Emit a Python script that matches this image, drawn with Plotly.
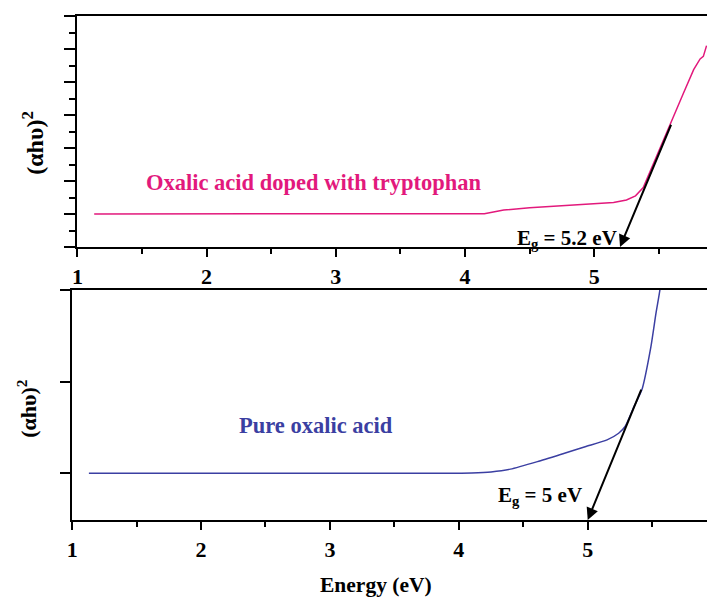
import plotly.graph_objects as go

# ---- data ----
energy_doped = [1.13, 1.5, 2.0, 2.5, 3.0, 3.5, 4.0, 4.15, 4.22, 4.3, 4.5, 4.8, 5.0, 5.15,
                5.25, 5.32, 5.38, 5.45, 5.54, 5.61, 5.69, 5.77, 5.82, 5.845, 5.87]
ahv_doped = [2.0, 2.0, 2.0, 2.0, 1.99, 1.99, 1.99, 2.02, 2.12, 2.24, 2.38, 2.52, 2.6, 2.7,
             2.85, 3.1, 3.6, 4.9, 6.5, 7.9, 9.3, 10.75, 11.4, 11.55, 12.2]

energy_pure = [1.13, 1.5, 2.0, 2.5, 3.0, 3.5, 3.9, 4.1, 4.25, 4.4, 4.61, 4.82, 4.98, 5.15,
               5.24, 5.29, 5.36, 5.42, 5.49, 5.53, 5.56, 5.6]
ahv_pure = [1.0, 1.0, 1.0, 1.0, 1.0, 1.0, 1.0, 1.004, 1.015, 1.045, 1.127, 1.219, 1.29, 1.364,
            1.437, 1.51, 1.73, 1.91, 2.38, 2.75, 3.0, 3.5]

# band-gap tangent lines: (start energy, start value) -> (Eg, axis value)
eg_doped = 5.2
tangent_doped = (5.6, 7.5)
eg_pure = 5.0
tangent_pure = (5.42, 1.93)

x_ticks = [1, 2, 3, 4, 5]
label_doped = "Oxalic acid doped with tryptophan"
label_pure = "Pure oxalic acid"
eg_label_doped = "E<sub>g</sub> = 5.2 eV"
eg_label_pure = "E<sub>g</sub> = 5 eV"
y_title = "(αhυ)<sup>2</sup>"
x_title = "Energy (eV)"

MAGENTA = "#e2197c"
BLUE = "#3b3fa2"
FONT = "Liberation Serif"

W, H = 707, 599

def px(x):
    return x / W

def py(y):
    return 1 - y / H

def bold(s):
    return "<b>" + s + "</b>"

fig = go.Figure()
fig.add_trace(go.Scatter(x=energy_doped, y=ahv_doped, mode="lines",
                         line=dict(color=MAGENTA, width=1.5), xaxis="x", yaxis="y",
                         showlegend=False, hoverinfo="skip"))
fig.add_trace(go.Scatter(x=energy_pure, y=ahv_pure, mode="lines",
                         line=dict(color=BLUE, width=1.5, shape="spline", smoothing=0.6),
                         xaxis="x2", yaxis="y2", showlegend=False, hoverinfo="skip"))

tickfont = dict(family=FONT, size=22, color="black")
common_x = dict(showline=True, linecolor="black", linewidth=2, mirror=True,
                ticks="outside", ticklen=8, tickwidth=2, tickcolor="black",
                tickvals=x_ticks, ticktext=[bold(str(v)) for v in x_ticks],
                tickfont=tickfont, ticklabelstandoff=1,
                minor=dict(ticks="outside", ticklen=5, tickwidth=2, tickcolor="black", dtick=0.5,
                           tick0=0.5),
                showgrid=False, zeroline=False, fixedrange=True)

fig.update_layout(
    width=W, height=H,
    margin=dict(l=0, r=0, t=0, b=0),
    paper_bgcolor="white", plot_bgcolor="white",
    font=dict(family=FONT),
    xaxis=dict(domain=[px(72), 1], range=[1, 1 + 635 / 130.3], anchor="y", **common_x),
    yaxis=dict(domain=[py(247), py(16)], range=[0, 14], anchor="x",
               showline=True, linecolor="black", linewidth=2,
               ticks="outside", ticklen=11, tickwidth=2, tickcolor="black",
               tickvals=[0, 2, 4, 6, 8, 10, 12, 14], showticklabels=False,
               minor=dict(ticks="outside", ticklen=6, tickwidth=2, tickcolor="black",
                          tickvals=[1, 3, 5, 7, 9, 11, 13]),
               showgrid=False, zeroline=False, fixedrange=True),
    xaxis2=dict(domain=[px(66.7), 1], range=[1, 1 + 640.3 / 130], anchor="y2", **common_x),
    yaxis2=dict(domain=[py(520), py(290)], range=[0.49, 3.0], anchor="x2",
                showline=True, linecolor="black", linewidth=2,
                ticks="outside", ticklen=10, tickwidth=2, tickcolor="black",
                tickvals=[1, 2, 3], showticklabels=False,
                showgrid=False, zeroline=False, fixedrange=True),
)

ann = []
# curve labels
ann.append(dict(x=2.834, y=3.89, xref="x", yref="y", text=bold(label_doped), showarrow=False,
                xanchor="center", yanchor="middle",
                font=dict(family=FONT, size=22.5, color=MAGENTA)))
ann.append(dict(x=2.895, y=1.52, xref="x2", yref="y2", text=bold(label_pure), showarrow=False,
                xanchor="center", yanchor="middle",
                font=dict(family=FONT, size=22.5, color=BLUE)))
# Eg labels
ann.append(dict(x=4.423, y=0.73, xref="x", yref="y", text=bold(eg_label_doped), showarrow=False,
                xanchor="left", yanchor="middle", yshift=-4, xshift=-5,
                font=dict(family=FONT, size=21, color="black")))
ann.append(dict(x=4.318, y=0.80, xref="x2", yref="y2", text=bold(eg_label_pure), showarrow=False,
                xanchor="left", yanchor="middle", yshift=-4, xshift=-4,
                font=dict(family=FONT, size=21, color="black")))
# tangent arrows
ann.append(dict(x=eg_doped, y=0, xref="x", yref="y", ax=tangent_doped[0], ay=tangent_doped[1],
                axref="x", ayref="y", text="", showarrow=True, arrowhead=2, arrowsize=1.2,
                arrowwidth=2, arrowcolor="black", standoff=0))
ann.append(dict(x=eg_pure, y=0.49, xref="x2", yref="y2", ax=tangent_pure[0], ay=tangent_pure[1],
                axref="x2", ayref="y2", text="", showarrow=True, arrowhead=2, arrowsize=1.2,
                arrowwidth=2, arrowcolor="black", standoff=0))
# axis titles
ann.append(dict(x=px(27), y=py(143), xref="paper", yref="paper", text=bold(y_title), showarrow=False,
                xanchor="center", yanchor="middle",
                textangle=-90, font=dict(family=FONT, size=24, color="black")))
ann.append(dict(x=px(21), y=py(408), xref="paper", yref="paper", text=bold(y_title), showarrow=False,
                xanchor="center", yanchor="middle",
                textangle=-90, font=dict(family=FONT, size=22, color="black")))
ann.append(dict(x=px(373.5), y=py(585), xref="paper", yref="paper", text=bold(x_title), showarrow=False,
                xanchor="center", yanchor="middle", borderpad=0,
                font=dict(family=FONT, size=21.5, color="black")))
fig.update_layout(annotations=ann)

fig.write_html("out.html")
